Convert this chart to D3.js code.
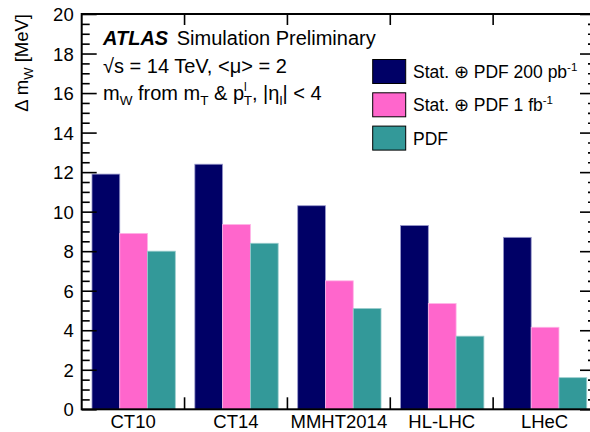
<!DOCTYPE html>
<html><head><meta charset="utf-8">
<script src="https://cdn.jsdelivr.net/npm/d3@7"></script>
<style>
body{margin:0;background:#fff;}
svg{display:block;font-family:"Liberation Sans",Arial,Helvetica,sans-serif;}
</style></head>
<body><svg id="c" width="590" height="432"></svg>
<script>
const categories = ["CT10","CT14","MMHT2014","HL-LHC","LHeC"];
const series = ["stat200","stat1fb","pdf"];
const stat200 = [11.9, 12.4, 10.3, 9.3, 8.7];
const stat1fb = [8.9, 9.35, 6.5, 5.35, 4.15];
const pdf = [8.0, 8.4, 5.1, 3.7, 1.6];
const yMajorTicks = [0,2,4,6,8,10,12,14,16,18,20];
const colors = {stat200:"#000066", stat1fb:"#ff66cc", pdf:"#339999"};
const strokes = {stat200:"#9999cc", stat1fb:"#ffb3e6", pdf:"#99cccc"};
const values = {stat200, stat1fb, pdf};

const svg = d3.select("#c");
const L = 81.7, R = 596, T = 14, B = 409.3;
const x = d3.scaleBand().domain(categories).range([L, R]).padding(0);
const bw = x.bandwidth();
const xs = d3.scaleBand().domain(series).range([0.1*bw, 0.91*bw]).padding(0);
const y = d3.scaleLinear().domain([0,20]).range([B, T]);

// bars
series.forEach(s => {
  svg.append("g").selectAll("rect").data(categories).join("rect")
    .attr("x", (c) => x(c) + xs(s))
    .attr("y", (c,i) => y(values[s][i]))
    .attr("width", xs.bandwidth())
    .attr("height", (c,i) => B - y(values[s][i]))
    .attr("fill", colors[s])
    .attr("stroke", strokes[s]).attr("stroke-width", 0.8);
});

// frame
svg.append("rect").attr("x", L).attr("y", T).attr("width", R-L).attr("height", B-T)
  .attr("fill","none").attr("stroke","#000").attr("stroke-width",2);

// y axis left
const minor = d3.range(0, 20.01, 0.5).filter(v => v % 2 !== 0);
const gL = svg.append("g").attr("transform", `translate(${L},0)`)
  .call(d3.axisLeft(y).tickValues(yMajorTicks).tickSize(-15).tickPadding(8).tickFormat(d3.format("d")));
gL.select(".domain").remove();
gL.selectAll("line").attr("stroke-width",1.6);
gL.selectAll("text").attr("font-size","18.5px").attr("fill","#000").attr("dy","0.36em");
const gLm = svg.append("g").attr("transform", `translate(${L},0)`)
  .call(d3.axisLeft(y).tickValues(minor).tickSize(-8).tickFormat(""));
gLm.select(".domain").remove();
gLm.selectAll("line").attr("stroke-width",1.6);
// y axis right
const gR = svg.append("g").attr("transform", `translate(${R},0)`)
  .call(d3.axisRight(y).tickValues(yMajorTicks).tickSize(-16).tickFormat(""));
gR.select(".domain").remove();
gR.selectAll("line").attr("stroke-width",1.6);
const gRm = svg.append("g").attr("transform", `translate(${R},0)`)
  .call(d3.axisRight(y).tickValues(minor).tickSize(-8).tickFormat(""));
gRm.select(".domain").remove();
gRm.selectAll("line").attr("stroke-width",1.6);

// x axis labels
const gB = svg.append("g").attr("transform", `translate(0,${B})`)
  .call(d3.axisBottom(x).tickSize(0).tickPadding(6));
gB.select(".domain").remove();
gB.selectAll("text").attr("font-size","18.5px").attr("fill","#000");
// boundary ticks
const bounds = categories.slice(1).map(c => x(c));
svg.append("g").selectAll("line").data(bounds).join("line")
  .attr("x1", d=>d).attr("x2", d=>d).attr("y1", B).attr("y2", B-12)
  .attr("stroke","#000").attr("stroke-width",1.6);
svg.append("g").selectAll("line").data(bounds).join("line")
  .attr("x1", d=>d).attr("x2", d=>d).attr("y1", T).attr("y2", T+11)
  .attr("stroke","#000").attr("stroke-width",1.6);

// y label
const yl = svg.append("text").attr("transform", `translate(28,${T}) rotate(-90)`)
  .attr("text-anchor","end").attr("font-size","18.5px");
yl.append("tspan").text("Δ m");
yl.append("tspan").text("W").attr("font-size","13px").attr("dy",5);
yl.append("tspan").text(" [MeV]").attr("dy",-5);

// ATLAS label
const t1 = svg.append("text").attr("x",103).attr("y",45).attr("font-size","20px");
t1.append("tspan").text("ATLAS").attr("font-weight","bold").attr("font-style","italic");
t1.append("tspan").text(" Simulation Preliminary").attr("dx",3);
svg.append("text").attr("x",103).attr("y",72.5).attr("font-size","20px")
  .text("√s = 14 TeV, <μ> = 2");
const t3 = svg.append("text").attr("x",103).attr("y",100).attr("font-size","20px");
t3.append("tspan").text("m");
t3.append("tspan").text("W").attr("font-size","13.5px").attr("dy",5);
t3.append("tspan").text(" from m").attr("dy",-5);
t3.append("tspan").text("T").attr("font-size","13.5px").attr("dy",5);
t3.append("tspan").text(" & p").attr("dy",-5);
t3.append("tspan").text("l").attr("font-size","12px").attr("dy",-9);
t3.append("tspan").text("T").attr("font-size","13.5px").attr("dy",14).attr("dx",-3);
t3.append("tspan").text(", |η").attr("dy",-5);
t3.append("tspan").text("l").attr("font-size","13.5px").attr("dy",5);
t3.append("tspan").text("| < 4").attr("dy",-5);

// legend
const legendItems = [
  {key:"stat200", main:"Stat. ⊕ PDF 200 pb", sup:"-1"},
  {key:"stat1fb", main:"Stat. ⊕ PDF 1 fb", sup:"-1"},
  {key:"pdf", main:"PDF", sup:""}
];
const lg = svg.append("g");
legendItems.forEach((d,i) => {
  const yy = 59.5 + i*33.3;
  lg.append("rect").attr("x",372.7).attr("y",yy).attr("width",33).attr("height",24)
    .attr("fill",colors[d.key]).attr("stroke","#000").attr("stroke-width",1);
  const tx = lg.append("text").attr("x",413).attr("y",yy+18.5).attr("font-size","17.5px");
  tx.append("tspan").text(d.main);
  if (d.sup) tx.append("tspan").text(d.sup).attr("font-size","11.5px").attr("dy",-7);
});
</script></body></html>
